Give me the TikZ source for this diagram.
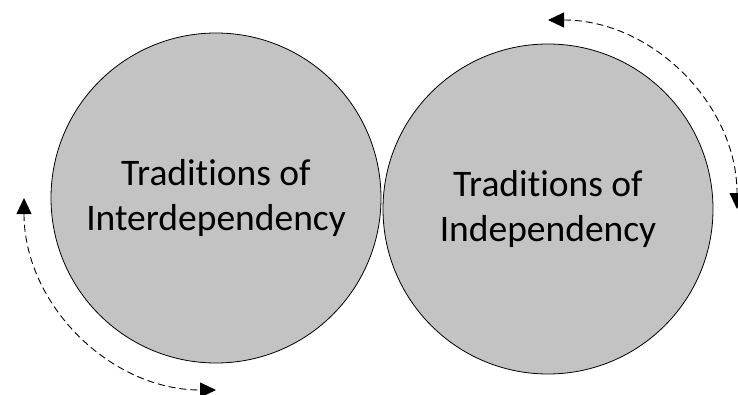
\documentclass[tikz,border=0pt]{standalone}
\usepackage{fontspec}
\setmainfont[RawFeature=-liga]{Carlito}
\usetikzlibrary{arrows.meta}
\definecolor{circlegray}{RGB}{195,195,195}

\begin{document}
\begin{tikzpicture}[x=1pt, y=1pt,
        tradition/.style={circle, draw, fill=circlegray, line width=0.8pt, minimum size=330pt, inner sep=0pt, align=center, font=\fontsize{37.5}{45}\selectfont},
        cycle/.style={dashed, dash pattern=on 7pt off 4pt, line width=0.9pt, {Triangle[length=16pt, width=15pt]}-{Triangle[length=16pt, width=15pt]}}]
            \useasboundingbox (0, 0) rectangle (738, 394);

            %nodes
            \node[tradition] (inter) at (216, 196) {Traditions of\\Interdependency};
            \node[tradition] (indep) at (548, 185) {Traditions of\\Independency};

            %edges
            \draw[cycle] ([shift={(180:192pt)}]inter.center) arc[start angle=180, end angle=270, radius=192pt];
            \draw[cycle] ([shift={(90:189pt)}]indep.center) arc[start angle=90, end angle=0, radius=189pt];
        \end{tikzpicture}
\end{document}
